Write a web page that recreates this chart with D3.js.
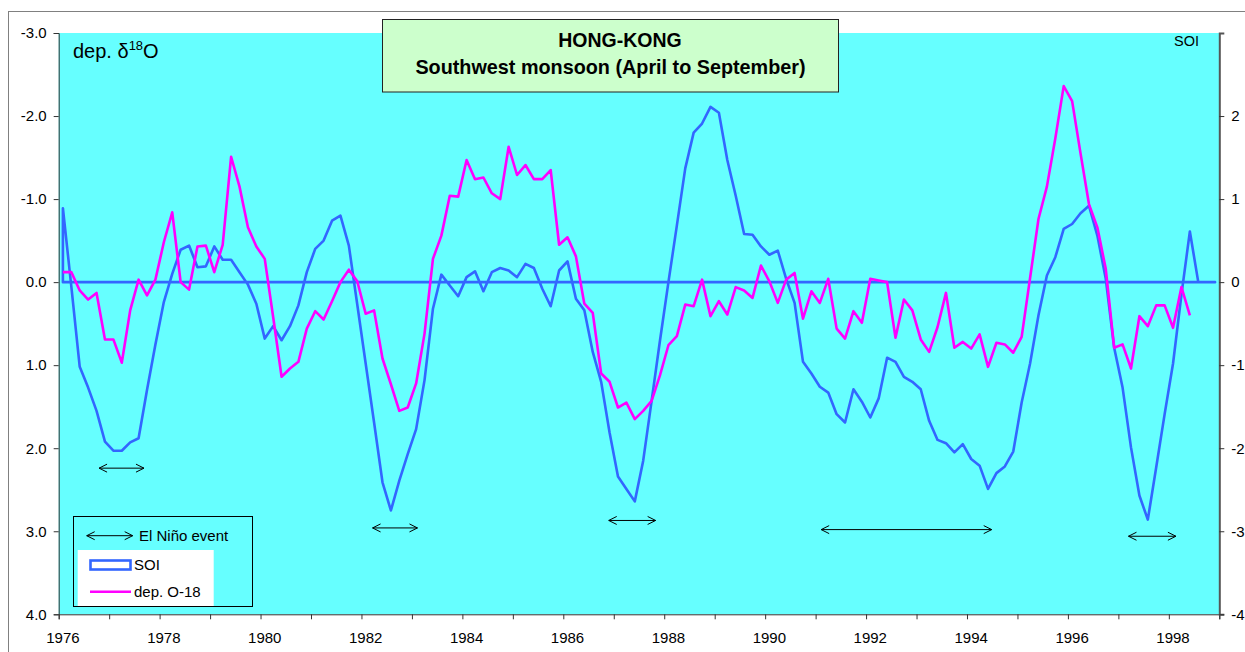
<!DOCTYPE html>
<html>
<head>
<meta charset="utf-8">
<script src="https://cdn.jsdelivr.net/npm/d3@7"></script>
<style>
  body { margin: 0; background: #fff; }
  svg { display: block; font-family: "Liberation Sans", Arial, sans-serif; }
</style>
</head>
<body>
<svg id="chart" width="1245" height="652"></svg>
<script>
// Categories: April to September of each year
var years = [1976, 1977, 1978, 1979, 1980, 1981, 1982, 1983, 1984, 1985, 1986, 1987,
             1988, 1989, 1990, 1991, 1992, 1993, 1994, 1995, 1996, 1997, 1998]
var months = ['Apr', 'May', 'Jun', 'Jul', 'Aug', 'Sep']
var yearLabels = ['1976', '1978', '1980', '1982', '1984', '1986', '1988', '1990', '1992', '1994', '1996', '1998']

// Southern Oscillation Index (right axis)
var soi = [
   0.89, -0.05, -1.02, -1.27, -1.55, -1.92, -2.03, -2.03, -1.93, -1.88, -1.30, -0.75,
  -0.24,  0.10,  0.39,  0.44,  0.18,  0.19,  0.43,  0.27,  0.27,  0.12, -0.03, -0.26,
  -0.68, -0.53, -0.70, -0.53, -0.28,  0.12,  0.40,  0.50,  0.74,  0.80,  0.44, -0.27,
  -0.98, -1.69, -2.41, -2.75, -2.39, -2.07, -1.77, -1.18, -0.32,  0.09, -0.04, -0.17,
   0.06,  0.13, -0.11,  0.12,  0.17,  0.14,  0.06,  0.22,  0.17, -0.08, -0.29,  0.14,
   0.25, -0.20, -0.34, -0.84, -1.20, -1.81, -2.34, -2.49, -2.64, -2.15, -1.43, -0.70,
   0.00,  0.68,  1.37,  1.80,  1.91,  2.11,  2.04,  1.47,  1.04,  0.58,  0.57,  0.43,
   0.33,  0.38,  0.04, -0.25, -0.96, -1.10, -1.26, -1.33, -1.59, -1.69, -1.29, -1.44,
  -1.63, -1.40, -0.91, -0.96, -1.14, -1.20, -1.29, -1.67, -1.90, -1.94, -2.05, -1.95,
  -2.13, -2.21, -2.49, -2.30, -2.22, -2.04, -1.45, -0.98, -0.40,  0.08,  0.30,  0.64,
   0.70,  0.83,  0.92,  0.56,  0.04, -0.79, -1.27, -1.99, -2.57, -2.86, -2.23, -1.59,
  -0.98, -0.15,  0.61,  0.00,  0.00,  0.00
]

// Departure of delta 18O (left axis)
var dep = [
  -0.12, -0.12,  0.10,  0.21,  0.13,  0.69,  0.69,  0.97,  0.34, -0.03,  0.16, -0.03,
  -0.48, -0.84,  0.00,  0.09, -0.43, -0.44, -0.12, -0.45, -1.51, -1.15, -0.66, -0.43,
  -0.28,  0.42,  1.14,  1.04,  0.96,  0.56,  0.35,  0.45,  0.23,  0.00, -0.15, -0.01,
   0.38,  0.34,  0.92,  1.23,  1.55,  1.51,  1.22,  0.62, -0.28, -0.56, -1.04, -1.03,
  -1.47, -1.24, -1.26, -1.07, -1.00, -1.63, -1.29, -1.41, -1.24, -1.24, -1.35, -0.45,
  -0.54, -0.31,  0.26,  0.37,  1.10,  1.20,  1.51,  1.45,  1.65,  1.55,  1.43,  1.12,
   0.76,  0.65,  0.27,  0.29, -0.03,  0.41,  0.23,  0.39,  0.06,  0.10,  0.19, -0.20,
  -0.01,  0.25, -0.03, -0.11,  0.44,  0.11,  0.25, -0.04,  0.56,  0.68,  0.35,  0.49,
  -0.04, -0.02,  0.00,  0.67,  0.21,  0.34,  0.69,  0.84,  0.54,  0.13,  0.79,  0.72,
   0.80,  0.63,  1.02,  0.73,  0.75,  0.85,  0.66, -0.05, -0.76, -1.15, -1.73, -2.36,
  -2.18, -1.55, -0.94, -0.66, -0.16,  0.79,  0.75,  1.04,  0.41,  0.53,  0.28,  0.28,
   0.55,  0.06,  0.40
]

// El Nino events: start / end (decimal year), drawn at a dep. level
var ninoStart = [1976.80, 1982.22, 1986.90, 1991.11, 1997.20]
var ninoEnd   = [1977.69, 1983.11, 1987.83, 1994.49, 1998.14]
var ninoLevel = [2.24, 2.96, 2.87, 2.98, 3.06]

var leftTicks = [-3, -2, -1, 0, 1, 2, 3, 4]
var rightTicks = [2, 1, 0, -1, -2, -3, -4]

var cyan = '#66ffff', blue = '#3366ff', magenta = '#ff00ff'

var svg = d3.select('#chart')
var plot = { left: 58.7, right: 1219.3, top: 33, bottom: 614.3 }

// outer chart border
svg.append('rect')
    .attr('x', 8.5).attr('y', 11.5)
    .attr('width', 1250).attr('height', 700)
    .attr('fill', '#fff').attr('stroke', '#808080').attr('stroke-width', 1)

svg.append('rect')
    .attr('x', plot.left).attr('y', plot.top)
    .attr('width', plot.right - plot.left).attr('height', plot.bottom - plot.top)
    .attr('fill', cyan)

var categories = []
years.forEach(y => months.forEach(m => categories.push(y + '-' + m)))

var xBand = d3.scaleBand().domain(d3.range(categories.length)).range([plot.left, plot.right]).padding(0)
var xc = i => xBand(i) + xBand.bandwidth() / 2
var xYear = d3.scaleLinear().domain([years[0], years[years.length - 1] + 1]).range([plot.left, plot.right])
var yDep = d3.scaleLinear().domain([-3, 4]).range([plot.top, plot.bottom])
var ySoi = d3.scaleLinear().domain([3, -4]).range([plot.top, plot.bottom])

// x axis: tick every year, label every second year
var xAxis = d3.axisBottom(xYear)
    .tickValues(d3.range(years[0], years[years.length - 1] + 2))
    .tickSize(5)
    .tickFormat('')
var gx = svg.append('g').attr('transform', `translate(0,${plot.bottom})`).call(xAxis)
gx.select('.domain').attr('stroke', '#333')
gx.selectAll('.tick line').attr('stroke', '#333')

svg.append('g').selectAll('text')
    .data(yearLabels)
    .enter().append('text')
    .attr('x', d => xc(years.indexOf(+d) * months.length))
    .attr('y', 643)
    .attr('text-anchor', 'middle')
    .attr('font-size', 15)
    .text(d => d)

// left axis
var gl = svg.append('g').attr('transform', `translate(${plot.left},0)`)
    .call(d3.axisLeft(yDep).tickValues(leftTicks).tickSize(5).tickPadding(7).tickFormat(d3.format('.1f')))
gl.select('.domain').attr('stroke', '#333')
gl.selectAll('.tick line').attr('stroke', '#333')
gl.selectAll('.tick text').attr('font-size', 15).attr('fill', '#000')
    .attr('font-family', '"Liberation Sans", Arial, sans-serif')
    .text(d => d3.format('.1f')(d).replace('−', '-'))

// right axis
var gr = svg.append('g').attr('transform', `translate(${plot.right},0)`)
    .call(d3.axisRight(ySoi).tickValues(rightTicks).tickSize(5).tickPadding(7))
gr.select('.domain').attr('stroke', '#555').attr('stroke-width', 2)
gr.selectAll('.tick line').attr('stroke', '#333')
gr.selectAll('.tick text').attr('font-size', 15).attr('fill', '#000')
    .attr('font-family', '"Liberation Sans", Arial, sans-serif')
    .text(d => String(d).replace('−', '-'))

// SOI as an unfilled area (border runs along the zero baseline)
var soiArea = d3.area()
    .x((d, i) => xc(i))
    .y0(ySoi(0))
    .y1(d => ySoi(d))

svg.append('path')
    .datum(soi)
    .attr('d', soiArea)
    .attr('fill', 'none')
    .attr('stroke', blue)
    .attr('stroke-width', 2.6)
    .attr('stroke-linejoin', 'round')

var depLine = d3.line()
    .x((d, i) => xc(i))
    .y(d => yDep(d))

svg.append('path')
    .datum(dep)
    .attr('d', depLine)
    .attr('fill', 'none')
    .attr('stroke', magenta)
    .attr('stroke-width', 2.6)
    .attr('stroke-linejoin', 'round')

// double headed arrow
function arrow(g, x1, x2, y) {
    g.append('line')
        .attr('x1', x1).attr('x2', x2).attr('y1', y).attr('y2', y)
        .attr('stroke', '#000').attr('stroke-width', 1)
    g.append('path')
        .attr('d', `M${x1 + 8},${y - 4}L${x1},${y}L${x1 + 8},${y + 4}`)
        .attr('fill', 'none').attr('stroke', '#000').attr('stroke-width', 1)
    g.append('path')
        .attr('d', `M${x2 - 8},${y - 4}L${x2},${y}L${x2 - 8},${y + 4}`)
        .attr('fill', 'none').attr('stroke', '#000').attr('stroke-width', 1)
}

var ga = svg.append('g')
ninoStart.forEach((s, i) => arrow(ga, xYear(s), xYear(ninoEnd[i]), yDep(ninoLevel[i])))

// axis titles
var tl = svg.append('text').attr('x', 73).attr('y', 58).attr('font-size', 20)
tl.append('tspan').text('dep. δ')
tl.append('tspan').attr('font-size', 13).attr('dy', -8).text('18')
tl.append('tspan').attr('dy', 8).text('O')

svg.append('text').attr('x', 1199).attr('y', 46).attr('text-anchor', 'end')
    .attr('font-size', 14.5).text('SOI')

// title box
svg.append('rect')
    .attr('x', 382.5).attr('y', 19.5).attr('width', 456).attr('height', 72.5)
    .attr('fill', '#ccffcc').attr('stroke', '#222').attr('stroke-width', 1)
svg.append('text').attr('x', 620).attr('y', 47).attr('text-anchor', 'middle')
    .attr('font-size', 19.5).attr('font-weight', 'bold').text('HONG-KONG')
svg.append('text').attr('x', 610.5).attr('y', 74).attr('text-anchor', 'middle')
    .attr('font-size', 19.8).attr('font-weight', 'bold').text('Southwest monsoon (April to September)')

// legend
var lg = svg.append('g')
lg.append('rect').attr('x', 73.5).attr('y', 516.5).attr('width', 179).attr('height', 90)
    .attr('fill', cyan).attr('stroke', '#000').attr('stroke-width', 1)
arrow(lg, 86.7, 132.7, 535.7)
lg.append('text').attr('x', 139).attr('y', 541).attr('font-size', 15).text('El Niño event')
lg.append('rect').attr('x', 77.7).attr('y', 550).attr('width', 136).attr('height', 56)
    .attr('fill', '#fff')
lg.append('rect').attr('x', 90.5).attr('y', 560.5).attr('width', 40).attr('height', 9)
    .attr('fill', 'none').attr('stroke', blue).attr('stroke-width', 2.6)
lg.append('text').attr('x', 134).attr('y', 570).attr('font-size', 15).text('SOI')
lg.append('line').attr('x1', 90).attr('x2', 131).attr('y1', 591.7).attr('y2', 591.7)
    .attr('stroke', magenta).attr('stroke-width', 2.6)
lg.append('text').attr('x', 134).attr('y', 597).attr('font-size', 15).text('dep. O-18')
</script>
</body>
</html>
